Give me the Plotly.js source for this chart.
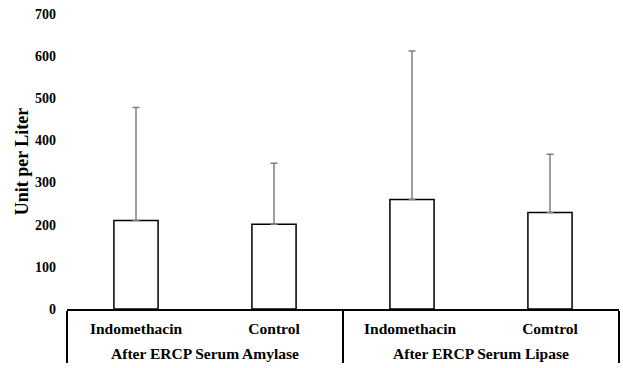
<!DOCTYPE html>
<html><head><meta charset="utf-8">
<script src="https://cdn.plot.ly/plotly-3.0.1.min.js"></script>
<style>body{margin:0;padding:0;background:#fff}#chart{width:623px;height:368px}</style>
</head><body><div id="chart"></div>
<script>
const groups = ["After ERCP Serum Amylase","After ERCP Serum Amylase","After ERCP Serum Lipase","After ERCP Serum Lipase"];
const categories = ["Indomethacin","Control","Indomethacin ","Comtrol"];
const means = [210, 201, 260, 229];
const errUp = [268, 145, 352, 138];
const yTicks = [0,100,200,300,400,500,600,700];

const fam = "Liberation Serif, Times New Roman, serif";
const big = s => "<span style='font-size:15.5px'>" + s + "</span>";
const catLabels = categories.map(c => big(c) + "<br>&nbsp;");
const groupLabels = groups.map(big);

Plotly.newPlot("chart", [{
  type: "bar",
  x: [groupLabels, catLabels],
  y: means,
  marker: {color: "#fff", line: {color: "#000", width: 1.5}},
  width: 0.32,
  error_y: {type: "data", symmetric: false, array: errUp, arrayminus: [0,0,0,0], color: "#7f7f7f", thickness: 1.5, width: 3.5},
  hoverinfo: "none"
}], {
  width: 623, height: 368,
  margin: {l: 67, r: 4, t: 14, b: 59},
  paper_bgcolor: "#fff", plot_bgcolor: "#fff",
  font: {family: fam, size: 15, color: "#000"},
  showlegend: false,
  xaxis: {
    type: "multicategory",
    showline: true, linecolor: "#000", linewidth: 1.5,
    ticks: "", showgrid: false,
    showdividers: true, dividercolor: "#000", dividerwidth: 1.5,
    ticklabelstandoff: 9,
    tickfont: {family: fam, size: 12, color: "#000", weight: "bold"}
  },
  yaxis: {
    range: [0, 700], tickvals: yTicks, ticktext: yTicks.map(String),
    showline: false, showgrid: false, zeroline: false, ticks: "",
    tickfont: {family: fam, size: 14, color: "#000", weight: "bold"},
    ticklabelstandoff: 10,
    title: {text: "Unit per Liter", font: {family: fam, size: 18, color: "#000", weight: "bold"}, standoff: 1}
  }
}, {displayModeBar: false, staticPlot: true});
</script></body></html>
